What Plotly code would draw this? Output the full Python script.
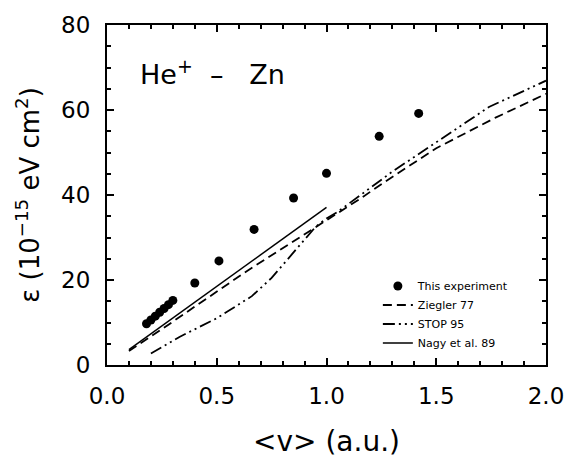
import plotly.graph_objects as go

# Experimental data
exp_v = [0.18, 0.20, 0.22, 0.24, 0.26, 0.28, 0.30, 0.40, 0.51, 0.67, 0.85, 1.00, 1.24, 1.42]
exp_eps = [9.7, 10.6, 11.5, 12.4, 13.3, 14.2, 15.2, 19.3, 24.5, 31.9, 39.3, 45.1, 53.8, 59.2]

# Ziegler 77
zie_v = [0.10, 0.28, 0.64, 0.91, 1.15, 1.26, 1.50, 1.77, 2.00]
zie_eps = [3.3, 9.5, 22.2, 31.2, 39.0, 42.9, 51.0, 58.2, 63.8]

# STOP 95
stop_v = [0.20, 0.33, 0.50, 0.63, 0.66, 0.75, 0.84, 0.95, 1.00, 1.05, 1.30, 1.50, 1.74, 2.00]
stop_eps = [2.7, 6.6, 11.0, 15.1, 16.2, 20.5, 25.9, 32.5, 34.5, 36.0, 45.5, 52.5, 60.7, 66.9]

# Nagy et al. 89
nagy_v = [0.10, 0.55, 1.00]
nagy_eps = [3.6, 20.3, 37.1]

FONT = "DejaVu Sans"

fig = go.Figure()
fig.add_trace(go.Scatter(x=exp_v, y=exp_eps, mode="markers", name="This experiment",
                         marker=dict(color="black", size=9, symbol="circle")))
fig.add_trace(go.Scatter(x=zie_v, y=zie_eps, mode="lines", name="Ziegler 77",
                         line=dict(color="black", width=1.8, dash="9px,5px")))
fig.add_trace(go.Scatter(x=stop_v, y=stop_eps, mode="lines", name="STOP 95",
                         line=dict(color="black", width=1.8, dash="12px,4px,2px,4px,2px,4px")))
fig.add_trace(go.Scatter(x=nagy_v, y=nagy_eps, mode="lines", name="Nagy et al. 89",
                         line=dict(color="black", width=1.5)))

fig.add_annotation(x=0.07, y=0.86, xref="paper", yref="paper",
                   text="He<sup>+</sup>&nbsp;&nbsp;\u2013&nbsp;&nbsp;&nbsp;Zn",
                   showarrow=False, xanchor="left", yanchor="middle",
                   font=dict(family=FONT, size=27, color="black"))

axis_common = dict(showline=True, linecolor="black", linewidth=2, mirror="ticks",
                   ticks="inside", tickcolor="black", tickwidth=2, ticklen=7,
                   showgrid=False, zeroline=False,
                   tickfont=dict(family=FONT, size=23, color="black"))

fig.update_xaxes(range=[0, 2.0], dtick=0.5, tick0=0, tickformat=".1f",
                 minor=dict(dtick=0.1, ticks="inside", ticklen=4, tickcolor="black", tickwidth=2),
                 ticklabelstandoff=9,
                 title=dict(text="&lt;v&gt; (a.u.)", font=dict(family=FONT, size=28, color="black"),
                            standoff=24),
                 **axis_common)
fig.update_yaxes(range=[0, 80], dtick=20, tick0=0,
                 minor=dict(dtick=5, ticks="inside", ticklen=4, tickcolor="black", tickwidth=2),
                 ticklabelstandoff=10,
                 title=dict(text="\u03b5 (10<sup>\u221215</sup> eV cm<sup>2</sup>)",
                            font=dict(family=FONT, size=26, color="black"), standoff=14),
                 **axis_common)

fig.update_layout(
    width=576, height=464,
    margin=dict(l=107, r=24, t=20, b=99),
    plot_bgcolor="white", paper_bgcolor="white",
    showlegend=True,
    legend=dict(x=0.617, y=0.275, xanchor="left", yanchor="top",
                bgcolor="rgba(0,0,0,0)", borderwidth=0,
                font=dict(family=FONT, size=11, color="black"),
                itemwidth=30, tracegroupgap=0),
)

fig.write_html("out.html")
